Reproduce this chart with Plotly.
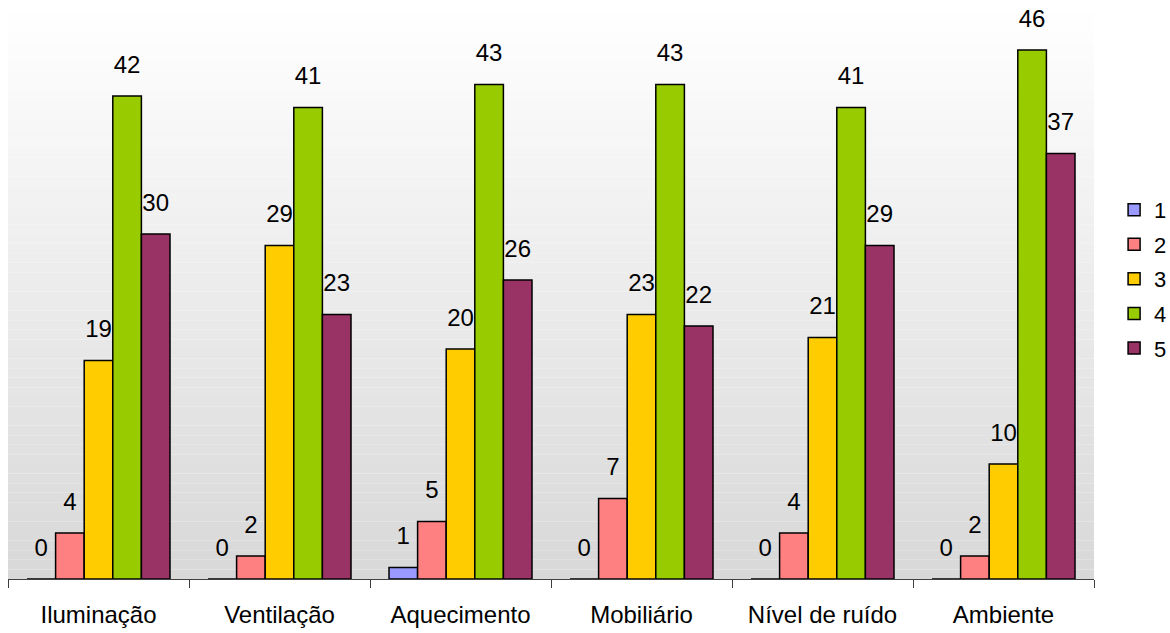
import plotly.graph_objects as go

# data
categories = ['Iluminação', 'Ventilação', 'Aquecimento', 'Mobiliário', 'Nível de ruído', 'Ambiente']
series_names = ['1', '2', '3', '4', '5']
s1 = [0, 0, 1, 0, 0, 0]
s2 = [4, 2, 5, 7, 4, 2]
s3 = [19, 29, 20, 23, 21, 10]
s4 = [42, 41, 43, 43, 41, 46]
s5 = [30, 23, 26, 22, 29, 37]

values = [s1, s2, s3, s4, s5]
colors = ['#9999FF', '#FF8080', '#FFCC00', '#99CC00', '#993366']
font_name = 'Liberation Sans, Arial, sans-serif'

fig = go.Figure()

for i, (name, vals) in enumerate(zip(series_names, values)):
    fig.add_trace(go.Bar(
        x=categories, y=vals, name=name,
        marker=dict(color=colors[i], line=dict(color='black', width=1.5)),
        offsetgroup=str(i), legendgroup=name,
    ))

# value labels, placed via invisible markers so the text sits a bit above the bars
for i, vals in enumerate(values):
    fig.add_trace(go.Scatter(
        x=categories, y=vals, mode='markers+text',
        text=[str(v) for v in vals], textposition='top center',
        textfont=dict(family=font_name, size=24, color='black'),
        marker=dict(size=26, opacity=0),
        offsetgroup=str(i), showlegend=False, hoverinfo='skip',
        cliponaxis=False,
    ))

# vertical gradient background of the plot area (white -> light gray)
n_steps = 60
for k in range(n_steps):
    t = k / (n_steps - 1)
    g = int(round(255 - t * (255 - 216)))
    fig.add_shape(
        type='rect', xref='paper', yref='paper',
        x0=0, x1=1, y0=1 - (k + 1) / n_steps, y1=1 - k / n_steps,
        fillcolor=f'rgb({g},{g},{g})', line=dict(width=0), layer='below',
    )

fig.update_layout(
    width=1170, height=633,
    barmode='group', bargap=0.21, bargroupgap=0,
    scattermode='group', scattergap=0.21,
    font=dict(family=font_name, size=24, color='black'),
    plot_bgcolor='white', paper_bgcolor='white',
    margin=dict(l=8, r=76, t=4, b=54, autoexpand=False),
    legend=dict(
        x=1.0185, y=0.522, xanchor='left', yanchor='middle',
        font=dict(family=font_name, size=22, color='black'),
        bgcolor='rgba(0,0,0,0)', itemwidth=30, tracegroupgap=3,
    ),
    showlegend=True,
)

fig.update_xaxes(
    showline=True, linecolor='#404040', linewidth=1,
    ticks='outside', ticklen=8, tickcolor='#404040',
    tickson='boundaries', showgrid=False, ticklabelstandoff=14,
    tickfont=dict(family=font_name, size=24, color='black'),
)
fig.update_yaxes(range=[0, 50], visible=False, showgrid=False)

fig.write_html("out.html", config={'displayModeBar': False},
               post_script="document.body.style.margin='0';")
